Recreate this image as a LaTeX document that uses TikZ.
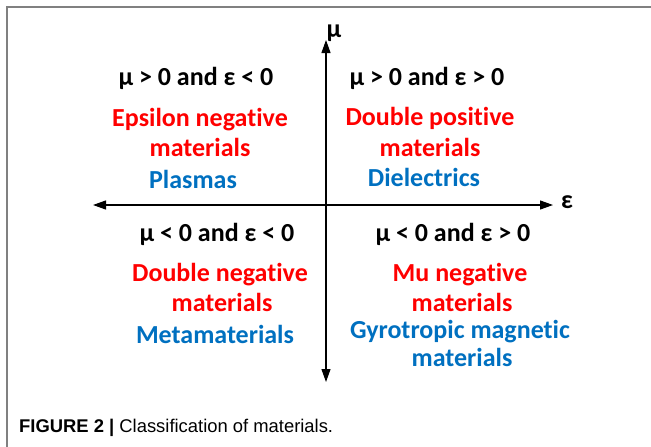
\documentclass[tikz,border=0pt]{standalone}
\usepackage{fontspec}
\setmainfont{Carlito}[Ligatures={NoCommon}]
\newfontfamily\captionfont{Liberation Sans}
\usepackage{tikz}
\usetikzlibrary{arrows.meta, positioning}
\definecolor{negred}{RGB}{255,0,0}
\definecolor{bspblue}{RGB}{0,112,192}

\begin{document}
\begin{tikzpicture}[x=1pt, y=-1pt,
		lbl/.style={font=\fontsize{26}{30}\selectfont\bfseries, inner sep=0pt, anchor=base},
		klasse/.style={lbl, text=negred},
		beispiel/.style={lbl, text=bspblue},
		achse/.style={line width=1.2pt, {Triangle[length=13pt,width=9pt]}-{Triangle[length=13pt,width=9pt]}}]
			\useasboundingbox (0,0) rectangle (651,447);
			% Rahmen
			\draw[gray, line width=1.5pt] (7,447) -- (7,7) -- (651,7);
			
			% Achsen
			\coordinate (eleft) at (93,205);
			\coordinate (eright) at (553,205);
			\coordinate (mtop) at (326,40);
			\coordinate (mbottom) at (326,382);
			\draw[achse] (eleft) -- (eright);
			\draw[achse] (mbottom) -- (mtop);
			\node[lbl] (mu) at (334,37) {μ};
			\node[lbl] (eps) at (567,208) {ε};
			
			% Quadrant oben links
			\node[lbl] (q2) at (196,85) {μ > 0 and ε < 0};
			\node[klasse] (enga) at (200,126) {Epsilon negative};
			\node[klasse] (engb) at (200,156) {materials};
			\node[beispiel] (plasma) at (193,188) {Plasmas};
			
			% Quadrant oben rechts
			\node[lbl] (q1) at (427,85) {μ > 0 and ε > 0};
			\node[klasse] (dpsa) at (430,125) {Double positive};
			\node[klasse] (dpsb) at (430,156) {materials};
			\node[beispiel] (diel) at (424,186) {Dielectrics};
			
			% Quadrant unten links
			\node[lbl] (q3) at (217,241) {μ < 0 and ε < 0};
			\node[klasse] (dnga) at (220,281) {Double negative};
			\node[klasse] (dngb) at (222,311) {materials};
			\node[beispiel] (meta) at (215,343) {Metamaterials};
			
			% Quadrant unten rechts
			\node[lbl] (q4) at (453,241) {μ < 0 and ε > 0};
			\node[klasse] (mnga) at (460,281) {Mu negative};
			\node[klasse] (mngb) at (462,311) {materials};
			\node[beispiel] (gyroa) at (460,338) {Gyrotropic magnetic};
			\node[beispiel] (gyrob) at (462,366) {materials};
			
			% Bildunterschrift
			\node[font=\captionfont\fontsize{18.4}{20}\selectfont, inner sep=0pt, anchor=base west] (caption) at (19,432) {\textbf{FIGURE 2 |} Classification of materials.};
		\end{tikzpicture}
\end{document}
